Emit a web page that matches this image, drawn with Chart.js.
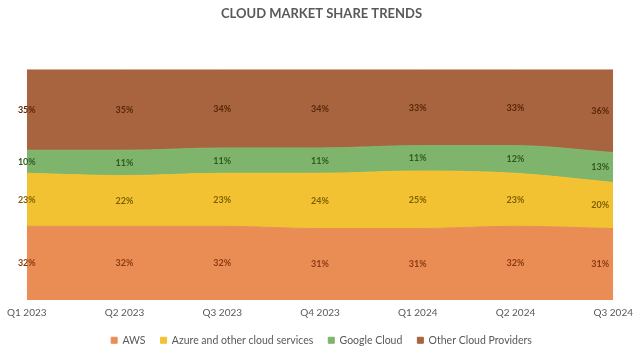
<!DOCTYPE html>
<html><head><meta charset="utf-8">
<script src="https://cdn.jsdelivr.net/npm/chart.js"></script>
<style>html,body{margin:0;padding:0;background:#fff}#wrap{width:640px;height:353px}</style>
</head><body><div id="wrap"><canvas id="c" width="640" height="353"></canvas></div>
<script>
const categories = ['Q1 2023','Q2 2023','Q3 2023','Q4 2023','Q1 2024','Q2 2024','Q3 2024'];
const aws = [32,32,32,31,31,32,31];
const azure = [23,22,23,24,25,23,20];
const google = [10,11,11,11,11,12,13];
const other = [35,35,34,34,33,33,36];

const labelPlugin = {
  id: 'bandLabels',
  afterInit(chart) {
    const lg = chart.legend;
    if (!lg) return;
    const of = lg.fit;
    lg.fit = function () { of.call(this); this.height = 27; };
    const od = lg.draw;
    lg.draw = function () {
      const t = this.top, b = this.bottom;
      this.top = t - 6; this.bottom = b - 6;
      od.call(this);
      this.top = t; this.bottom = b;
    };
  },
  afterDatasetsDraw(chart) {
    const ctx = chart.ctx;
    const yScale = chart.scales.y;
    ctx.save();
    ctx.font = 'bold 9px Lato';
    ctx.textAlign = 'center';
    ctx.textBaseline = 'middle';
    chart.data.datasets.forEach((ds, di) => {
      const meta = chart.getDatasetMeta(di);
      meta.data.forEach((pt, i) => {
        let bottom = di === 0 ? yScale.getPixelForValue(0) : chart.getDatasetMeta(di - 1).data[i].y;
        const y = (pt.y + bottom) / 2;
        let x = pt.x;
        if (i === meta.data.length - 1) x -= 13;
        ctx.fillStyle = ds.labelColor;
        ctx.fillText(ds.data[i] + '%', x, y);
      });
    });
    ctx.restore();
  }
};

new Chart(document.getElementById('c'), {
  type: 'line',
  data: {
    labels: categories,
    datasets: [
      {label:'AWS', data:aws, backgroundColor:'#E98D55', borderColor:'#E98D55', fill:'origin', labelColor:'#8B3A10'},
      {label:'Azure and other cloud services', data:azure, backgroundColor:'#F2C232', borderColor:'#F2C232', fill:'-1', labelColor:'#7F5F00'},
      {label:'Google Cloud', data:google, backgroundColor:'#7FB46C', borderColor:'#7FB46C', fill:'-1', labelColor:'#2F5A1F'},
      {label:'Other Cloud Providers', data:other, backgroundColor:'#A8643E', borderColor:'#A8643E', fill:'-1', labelColor:'#5A2608'}
    ]
  },
  options: {
    responsive: false,
    animation: false,
    devicePixelRatio: 1,
    layout: {padding: {left: 8, right: 5, top: 0, bottom: 0}},
    elements: {point: {radius: 0, hoverRadius: 0}, line: {tension: 0.4, cubicInterpolationMode: 'monotone', borderWidth: 1}},
    scales: {
      x: {offset: false, grid: {display: false, drawTicks: false}, border: {display: false},
          ticks: {color: '#595959', font: {family: 'Lato', size: 10}, maxRotation: 0, padding: 7}},
      y: {display: false, stacked: true, min: 0, max: 100}
    },
    plugins: {
      title: {display: true, text: 'CLOUD MARKET SHARE TRENDS', color: '#595959',
              font: {family: 'Lato', size: 13, weight: 'bold'}, padding: {top: 6, bottom: 48}},
      legend: {position: 'bottom', labels: {color: '#595959', font: {family: 'Lato', size: 10.5}, boxWidth: 6, boxHeight: 6, padding: 15}},
      tooltip: {enabled: false}
    }
  },
  plugins: [labelPlugin]
});
</script></body></html>
